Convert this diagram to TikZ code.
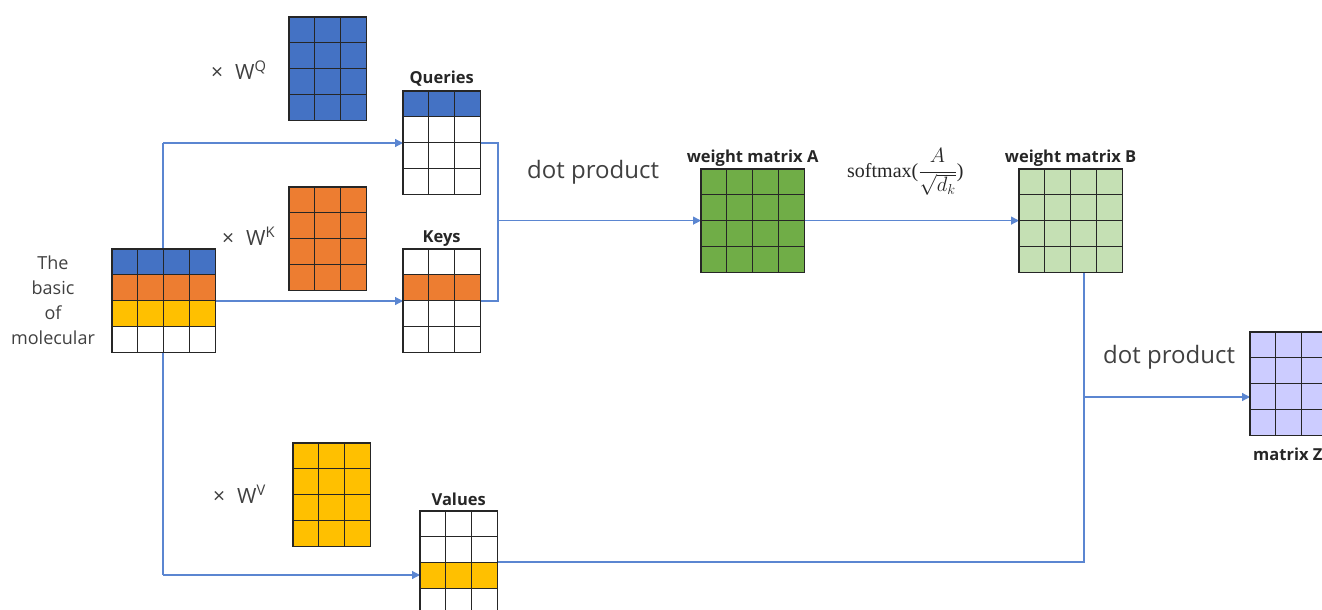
\documentclass[tikz,border=0pt]{standalone}
\usepackage[no-math]{fontspec}
\setmainfont{Open Sans}
\newfontfamily\opfont{Liberation Serif}
\usetikzlibrary{arrows.meta,calc}

\definecolor{qblue}{HTML}{4472C4}
\definecolor{korange}{HTML}{ED7D31}
\definecolor{vyellow}{HTML}{FFC000}
\definecolor{agreen}{HTML}{70AD47}
\definecolor{bgreen}{HTML}{C5E0B4}
\definecolor{zpurple}{HTML}{CCCCFF}
\definecolor{flow}{HTML}{5B86D1}
\definecolor{ink}{HTML}{404040}
\definecolor{cellink}{HTML}{262626}

\pgfdeclarelayer{bg}
\pgfsetlayers{bg,main}

\tikzset{
  matbox/.style={draw=cellink, line width=1.2pt, inner sep=0pt, outer sep=0pt},
  gridline/.style={draw=cellink, line width=1.2pt},
  flowline/.style={draw=flow, line width=1.2pt},
  flowarrow/.style={flowline, -{Triangle[length=8pt,width=8pt]}},
  matlabel/.style={font=\fontsize{16.5}{18}\selectfont\bfseries, text=cellink, inner sep=0pt, anchor=base},
  plainlabel/.style={font=\fontsize{24}{28}\selectfont, text=ink, inner sep=0pt, anchor=base west},
  weightlabel/.style={font=\fontsize{21}{24}\selectfont, text=ink, inner sep=0pt, anchor=base west},
}

% a matrix of square cells: name, left x, top y (px, y downwards), columns, rows, fill
\newcommand\gridmat[6]{%
  \node[matbox, fill=#6, minimum width={#4*25.8pt}, minimum height={#5*25.8pt},
        anchor=north west] (#1) at (#2,-#3) {};}
% colour one row of a matrix: name, row index from the top, columns, colour
\newcommand\rowband[4]{%
  \fill[#4] ($(#1.north west)+(0,{-#2*25.8})$) rectangle ++({#3*25.8},-25.8);}
% cell rules of a matrix: name, columns, rows
\newcommand\cellrules[3]{%
  \draw[gridline, shift={(#1.south west)}, step=25.8pt] (0,0) grid ({#2*25.8},{#3*25.8});
  \draw[gridline] (#1.south west) rectangle (#1.north east);}

\begin{document}
\begin{tikzpicture}[x=1pt,y=1pt]
\useasboundingbox (0,0) rectangle (1322,-610);
\clip (0,0) rectangle (1322,-610);

% input embedding
\gridmat{inp}{112}{249}{4}{4}{white}
\rowband{inp}{0}{4}{qblue}
\rowband{inp}{1}{4}{korange}
\rowband{inp}{2}{4}{vyellow}
\cellrules{inp}{4}{4}

% projection weights
\gridmat{wq}{289}{17}{3}{4}{qblue}
\cellrules{wq}{3}{4}
\gridmat{wk}{289}{187}{3}{4}{korange}
\cellrules{wk}{3}{4}
\gridmat{wv}{293}{443}{3}{4}{vyellow}
\cellrules{wv}{3}{4}

% queries, keys, values
\gridmat{q}{403}{91}{3}{4}{white}
\rowband{q}{0}{3}{qblue}
\cellrules{q}{3}{4}
\gridmat{k}{403}{249}{3}{4}{white}
\rowband{k}{1}{3}{korange}
\cellrules{k}{3}{4}
\gridmat{v}{420}{511}{3}{4}{white}
\rowband{v}{2}{3}{vyellow}
\cellrules{v}{3}{4}

% attention weights and output
\gridmat{a}{701}{169}{4}{4}{agreen}
\cellrules{a}{4}{4}
\gridmat{b}{1019}{169}{4}{4}{bgreen}
\cellrules{b}{4}{4}
\gridmat{z}{1250}{332}{4}{4}{zpurple}
\cellrules{z}{4}{4}

% labels
\node[font=\fontsize{18}{25}\selectfont, text=ink, align=center, inner sep=0pt] (inplabel) at (53,-300)
  {The\\basic\\of\\molecular};
\node[weightlabel] (wqlabel) at (211,-79) {×\hspace{12pt}W\textsuperscript{Q}};
\node[weightlabel] (wklabel) at (222,-245) {×\hspace{12pt}W\textsuperscript{K}};
\node[weightlabel] (wvlabel) at (213,-503) {×\hspace{12pt}W\textsuperscript{V}};
\node[matlabel] (qlabel) at ($(q.north)+(0,7)$) {Queries};
\node[matlabel] (klabel) at ($(k.north)+(0,7)$) {Keys};
\node[matlabel] (vlabel) at ($(v.north)+(0,6)$) {Values};
\node[matlabel] (alabel) at ($(a.north)+(0,6.5)$) {weight matrix A};
\node[matlabel] (blabel) at ($(b.north)+(0,6.5)$) {weight matrix B};
\node[matlabel, anchor=base west] (zlabel) at (1253,-460) {matrix Z};
\node[plainlabel] (dot1) at (527,-178) {dot product};
\node[plainlabel] (dot2) at (1103,-363) {dot product};
\node[inner sep=0pt, anchor=base west, text=black!85, font=\fontsize{20}{24}\selectfont] (soft) at (847,-177)
  {{\opfont softmax(}$\displaystyle\frac{A}{\sqrt{d_k}}${\opfont )}};

% data flow
\begin{pgfonlayer}{bg}
  \coordinate (split) at (163,-143);
  \coordinate (splitv) at (163,-575);
  \coordinate (kin) at (0,-301);
  \coordinate (qk) at (498,-220.6);
  \coordinate (zin) at (1084,-397);
  \draw[flowline] (split) -- (splitv);
  \draw[flowarrow] (split) -- (split -| q.west);
  \draw[flowarrow] (inp.east |- kin) -- (k.west |- kin);
  \draw[flowarrow] (splitv) -- (splitv -| v.west);
  \draw[flowline] (q.east |- split) -| (qk |- kin) -- (k.east |- kin);
  \draw[flowarrow] (qk) -- (qk -| a.west);
  \draw[flowarrow] (a) -- (b);
  \draw[flowline] (b.south -| zin) |- (v.east |- 0,-562);
  \draw[flowarrow] (zin) -- (z.west |- zin);
\end{pgfonlayer}
\end{tikzpicture}
\end{document}
